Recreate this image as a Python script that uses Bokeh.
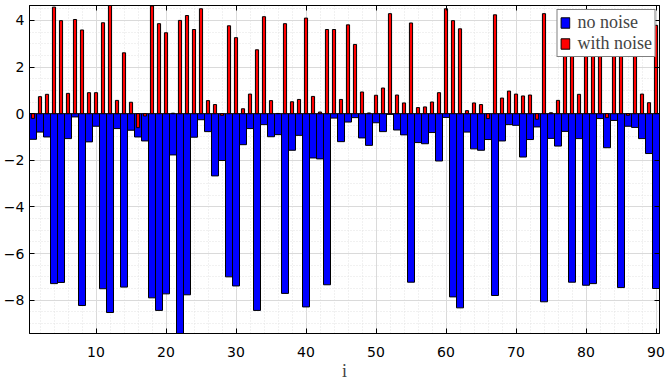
from bokeh.plotting import figure
from bokeh.models import (ColumnDataSource, Range1d, LinearAxis, SingleIntervalTicker,
                          Legend, LegendItem, CustomJSTickFormatter)
from bokeh.embed import file_html
from bokeh.resources import INLINE

idx = list(range(1, 91))

no_noise = [-1.10, -0.79, -1.00, -7.29, -7.24, -1.07, -0.14, -8.23, -1.21, -0.54,
            -7.51, -8.53, -0.64, -7.44, -0.71, -1.00, -1.17, -7.90, -8.44, -7.73,
            -1.77, -9.43, -7.77, -1.01, -0.26, -0.77, -2.67, -2.01, -7.00, -7.39,
            -1.33, -0.64, -8.44, -0.47, -0.99, -0.90, -7.71, -1.57, -0.93, -8.29,
            -1.90, -1.94, -7.34, -0.19, -1.20, -0.36, -0.17, -1.04, -1.36, -0.39,
            -0.77, -0.03, -0.70, -0.91, -7.23, -1.24, -1.29, -0.81, -2.03, -0.16,
            -7.86, -8.33, -0.79, -1.51, -1.57, -1.11, -7.80, -1.17, -0.47, -0.50,
            -1.86, -1.11, -0.57, -8.07, -1.06, -1.39, -0.76, -7.23, -1.07, -7.36,
            -7.29, -0.21, -1.46, -0.29, -7.46, -0.54, -0.59, -1.07, -1.71, -7.50]

with_noise = [-0.20, 0.73, 0.83, 4.57, 3.99, 0.87, 4.04, 3.59, 0.90, 0.90,
              3.90, 4.64, 0.57, 2.61, 0.49, -0.60, -0.10, 4.62, 3.86, 3.47,
              0.02, 4.00, 4.21, 3.61, 4.50, 0.56, 0.39, -0.07, 3.77, 3.26,
              0.21, 0.84, 2.74, 4.16, 0.56, 0.01, 3.86, 0.51, 0.61, 4.10,
              0.74, 0.07, 3.61, 3.61, 0.61, 3.81, 2.97, 0.93, 0.03, 0.79,
              1.10, 4.29, 0.80, 0.46, 3.89, 0.26, 0.29, 0.50, 0.90, 4.50,
              3.99, 3.64, 0.13, 0.46, 0.39, -0.21, 4.24, 0.67, 0.97, 0.84,
              0.76, 0.80, -0.24, 4.29, 0.04, 0.57, 3.90, 4.20, 0.83, 3.70,
              4.10, 3.80, -0.17, 4.00, 4.30, -0.07, 3.60, 0.84, 0.47, 3.79]

series_labels = ["no noise", "with noise"]
x_label = "i"

src = ColumnDataSource(dict(i=idx, nn=no_noise, wn=with_noise))

p = figure(width=667, height=383, output_backend="svg", toolbar_location=None,
           x_range=Range1d(0.5, 90.5), y_range=Range1d(min(no_noise), max(with_noise)),
           min_border_left=28, min_border_right=8, min_border_top=5, min_border_bottom=50)
p.background_fill_color = "white"
p.border_fill_color = "white"
p.outline_line_color = "black"
p.outline_line_width = 1

xt = SingleIntervalTicker(interval=10, num_minor_ticks=5)
yt = SingleIntervalTicker(interval=2, num_minor_ticks=4)

p.xaxis.ticker = xt
p.yaxis.ticker = yt
p.xgrid.ticker = xt
p.ygrid.ticker = yt

for g in (p.xgrid, p.ygrid):
    g.grid_line_color = "#dadada"
    g.grid_line_width = 1
    g.minor_grid_line_color = "#e2e2e2"
    g.minor_grid_line_dash = "1 2"

for ax in (p.xaxis[0], p.yaxis[0]):
    ax.axis_line_color = "black"
    ax.major_tick_in = 5
    ax.major_tick_out = 0
    ax.minor_tick_in = 0
    ax.minor_tick_out = 0
    ax.major_tick_line_color = "black"
    ax.major_label_text_font = "DejaVu Sans"
    ax.major_label_text_font_size = "14px"
    ax.major_label_text_color = "black"

p.yaxis[0].major_label_standoff = 5
p.xaxis[0].major_label_standoff = 13
p.xaxis[0].axis_label = x_label
p.xaxis[0].axis_label_text_font = "Liberation Serif"
p.xaxis[0].axis_label_text_font_size = "18px"
p.xaxis[0].axis_label_text_font_style = "normal"
p.xaxis[0].axis_label_standoff = 1

blank = CustomJSTickFormatter(code="return '';")
top_ax = LinearAxis(ticker=xt, formatter=blank)
right_ax = LinearAxis(ticker=yt, formatter=blank)
for ax in (top_ax, right_ax):
    ax.axis_line_color = "black"
    ax.major_tick_in = 5
    ax.major_tick_out = 0
    ax.minor_tick_in = 0
    ax.minor_tick_out = 0
    ax.major_label_standoff = 0
p.add_layout(top_ax, "above")
p.add_layout(right_ax, "right")

r1 = p.vbar(x="i", top="nn", bottom=0, width=1.0, source=src,
            fill_color="#0000ff", line_color="black", line_width=1)
r2 = p.vbar(x="i", top="wn", bottom=0, width=0.45, source=src,
            fill_color="#ff0000", line_color="black", line_width=1)

legend = Legend(items=[LegendItem(label=series_labels[0], renderers=[r1]),
                       LegendItem(label=series_labels[1], renderers=[r2])],
                location="top_right", margin=4, padding=2, spacing=0,
                glyph_width=11, glyph_height=13, label_standoff=7, label_height=19,
                label_text_font="Liberation Serif", label_text_font_size="18px",
                border_line_color="black", border_line_width=1,
                background_fill_color="white", background_fill_alpha=1.0)
p.add_layout(legend)

open("out.html", "w").write(file_html(p, INLINE))
